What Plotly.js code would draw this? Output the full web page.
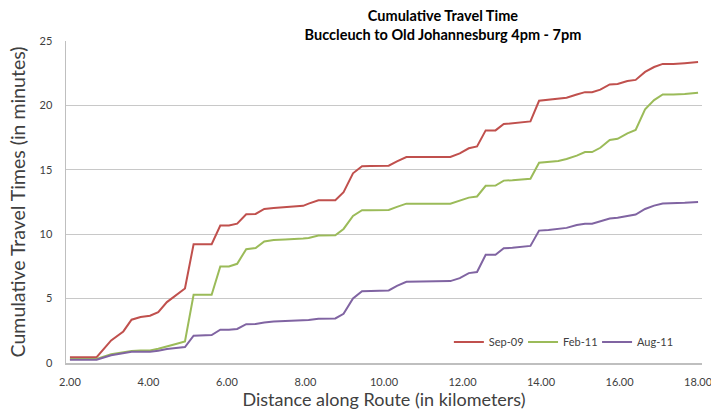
<!DOCTYPE html>
<html>
<head>
<meta charset="utf-8">
<script src="https://cdn.plot.ly/plotly-3.0.1.min.js"></script>
<style>
html,body{margin:0;padding:0;background:#fff;}
#chart{width:711px;height:412px;}
</style>
</head>
<body>
<div id="chart"></div>
<script>
var distanceKm = [2.00, 2.68, 3.05, 3.36, 3.57, 3.80, 4.04, 4.25, 4.47, 4.70,
  4.93, 5.15, 5.61, 5.83, 6.05, 6.26, 6.49, 6.73, 6.95, 7.19,
  7.48, 7.74, 7.94, 8.08, 8.33, 8.76, 8.97, 9.21, 9.44, 9.65,
  10.12, 10.33, 10.57, 11.69, 11.93, 12.16, 12.37, 12.59, 12.84, 13.05,
  13.27, 13.73, 13.95, 14.19, 14.44, 14.65, 14.91, 15.12, 15.30, 15.51,
  15.75, 15.95, 16.20, 16.41, 16.65, 16.88, 17.10, 17.37, 17.66, 18.00];

var sep09 = [0.45, 0.45, 1.75, 2.45, 3.36, 3.57, 3.67, 3.95, 4.73, 5.29,
  5.78, 9.22, 9.22, 10.67, 10.67, 10.82, 11.55, 11.57, 11.96, 12.03,
  12.08, 12.14, 12.20, 12.37, 12.64, 12.64, 13.26, 14.73, 15.27, 15.29,
  15.32, 15.66, 15.99, 15.99, 16.28, 16.67, 16.82, 18.06, 18.06, 18.55,
  18.60, 18.76, 20.36, 20.45, 20.49, 20.60, 20.84, 21.03, 21.03, 21.22,
  21.63, 21.67, 21.90, 21.98, 22.60, 22.98, 23.22, 23.22, 23.28, 23.36];

var feb11 = [0.31, 0.31, 0.68, 0.84, 0.93, 0.98, 0.98, 1.11, 1.26, 1.47,
  1.67, 5.29, 5.29, 7.49, 7.49, 7.70, 8.84, 8.92, 9.43, 9.54,
  9.58, 9.61, 9.66, 9.71, 9.89, 9.92, 10.41, 11.42, 11.86, 11.86,
  11.88, 12.12, 12.37, 12.37, 12.60, 12.84, 12.93, 13.76, 13.78, 14.16,
  14.19, 14.31, 15.55, 15.63, 15.68, 15.84, 16.10, 16.38, 16.38, 16.71,
  17.31, 17.41, 17.83, 18.09, 19.69, 20.41, 20.85, 20.85, 20.88, 20.98];

var aug11 = [0.26, 0.26, 0.60, 0.78, 0.88, 0.88, 0.88, 0.95, 1.09, 1.16,
  1.24, 2.12, 2.17, 2.58, 2.58, 2.64, 3.01, 3.03, 3.15, 3.22,
  3.26, 3.28, 3.32, 3.33, 3.43, 3.46, 3.82, 5.01, 5.58, 5.60,
  5.63, 5.99, 6.30, 6.36, 6.59, 6.98, 7.06, 8.40, 8.41, 8.91,
  8.94, 9.09, 10.28, 10.33, 10.39, 10.49, 10.72, 10.82, 10.82, 10.98,
  11.22, 11.28, 11.44, 11.53, 11.96, 12.22, 12.39, 12.39, 12.44, 12.50];

var seriesNames = ["Sep-09", "Feb-11", "Aug-11"];
var xTickVals = [2, 4, 6, 8, 10, 12, 14, 16, 18];
var xTickText = ["2.00", "4.00", "6.00", "8.00", "10.00", "12.00", "14.00", "16.00", "18.00"];
var yTickVals = [0, 5, 10, 15, 20, 25];

var FONT = "Lato, 'Open Sans', 'DejaVu Sans', sans-serif";
var colors = ["#C0504D", "#9BBB59", "#8064A2"];
var legendIds = ["legend", "legend2", "legend3"];
var ys = [sep09, feb11, aug11];

var traces = ys.map(function (y, i) {
  return {
    type: "scatter",
    mode: "lines",
    x: distanceKm,
    y: y,
    name: seriesNames[i],
    legend: legendIds[i],
    line: { color: colors[i], width: 2 }
  };
});

function legendAt(xp) {
  return {
    orientation: "h",
    x: xp, xanchor: "left",
    y: 0.065, yanchor: "middle",
    bgcolor: "rgba(0,0,0,0)",
    borderwidth: 0,
    font: { family: FONT, size: 11, color: "#404040" },
    itemwidth: 30
  };
}

var layout = {
  width: 711,
  height: 412,
  margin: { l: 66, r: 9, t: 41, b: 49 },
  paper_bgcolor: "#ffffff",
  plot_bgcolor: "#ffffff",
  font: { family: FONT, color: "#404040", size: 11 },
  title: {
    text: "<b>Cumulative Travel Time</b><br><b>Buccleuch to Old Johannesburg 4pm - 7pm</b>",
    font: { family: FONT, size: 14.5, color: "#000000" },
    xref: "container", x: 0.623, xanchor: "center",
    yref: "container", y: 0.949, yanchor: "middle"
  },
  xaxis: {
    range: [1.9, 18.1],
    automargin: false,
    tickvals: xTickVals,
    ticktext: xTickText,
    ticklabeloverflow: "allow",
    showgrid: false,
    zeroline: false,
    showline: true,
    linecolor: "#BFBFBF",
    linewidth: 1.5,
    ticks: "",
    ticklabelstandoff: 8,
    tickfont: { family: FONT, size: 11, color: "#404040" },
    title: {
      text: "Distance along Route (in kilometers)",
      font: { family: FONT, size: 18, color: "#404040" },
      standoff: 4
    }
  },
  yaxis: {
    range: [0, 25],
    automargin: false,
    tickvals: yTickVals,
    showgrid: true,
    gridcolor: "#C8C8C8",
    gridwidth: 1.3,
    zeroline: false,
    showline: true,
    linecolor: "#BFBFBF",
    linewidth: 1.5,
    ticks: "",
    ticklabelstandoff: 10,
    tickfont: { family: FONT, size: 11, color: "#404040" },
    title: {
      text: "Cumulative Travel Times (in minutes)",
      font: { family: FONT, size: 19.5, color: "#404040" },
      standoff: 8
    }
  },
  showlegend: true,
  legend: legendAt(0.602),
  legend2: legendAt(0.7186),
  legend3: legendAt(0.835)
};

Plotly.newPlot("chart", traces, layout, { staticPlot: true, displayModeBar: false });
</script>
</body>
</html>
